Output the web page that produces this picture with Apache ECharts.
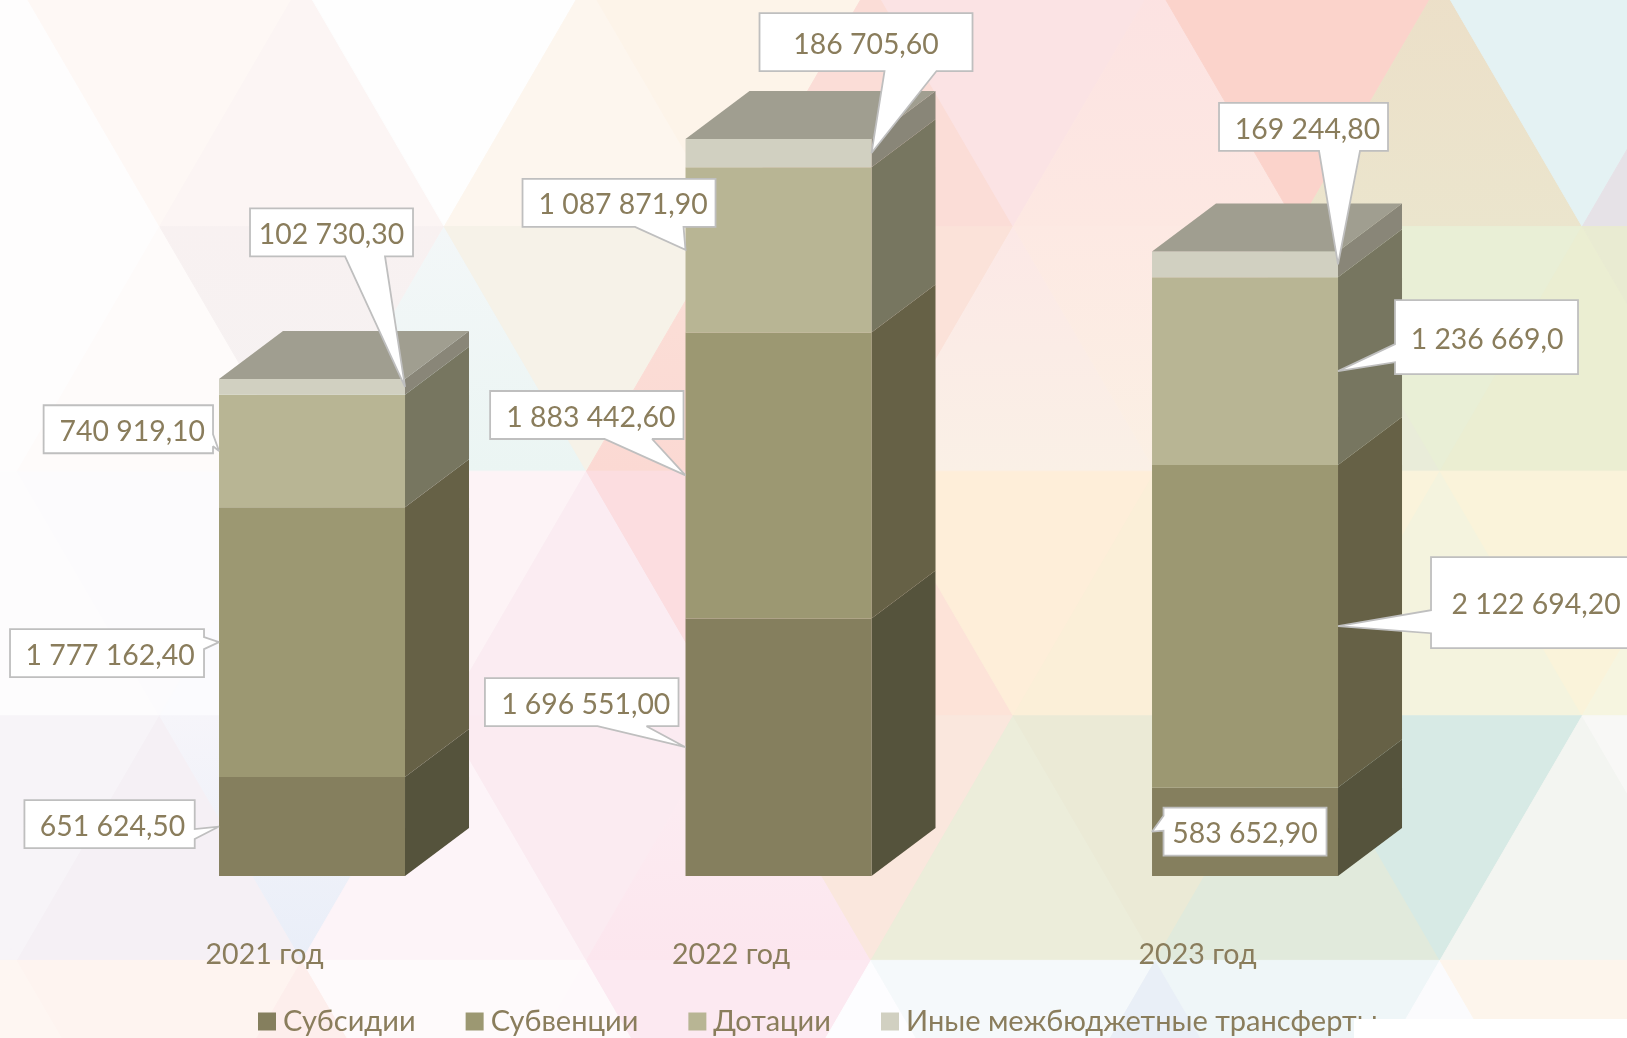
<!DOCTYPE html>
<html lang="ru">
<head>
<meta charset="utf-8">
<style>html,body{margin:0;padding:0;background:#fff;overflow:hidden}#c{width:1627px;height:1038px}</style>
<script src="https://cdn.jsdelivr.net/npm/echarts@6/dist/echarts.min.js"></script>
</head>
<body>
<div id="c"></div>
<script>
// ---------- data ----------
const categories = ['2021 год', '2022 год', '2023 год'];
const seriesNames = ['Субсидии', 'Субвенции', 'Дотации', 'Иные межбюджетные трансферты'];
const subsidies = [651624.5, 1696551.0, 583652.9];
const subventions = [1777162.4, 1883442.6, 2122694.2];
const dotations = [740919.1, 1087871.9, 1236669.0];
const otherTransfers = [102730.3, 186705.6, 169244.8];
const subsidyLabels = ['651 624,50', '1 696 551,00', '583 652,90'];
const subventionLabels = ['1 777 162,40', '1 883 442,60', '2 122 694,20'];
const dotationLabels = ['740 919,10', '1 087 871,90', '1 236 669,0'];
const otherLabels = ['102 730,30', '186 705,60', '169 244,80'];

// ---------- style ----------
const FONT = 'Lato, "Open Sans", "Noto Sans", sans-serif';
const TEXT = '#8a7d5c';
const frontColors = ['#857f5e', '#9c9872', '#b8b594', '#d1d0c1'];
const sideColors = ['#55533c', '#666146', '#777660', '#898678'];
const topColor = '#a09e90';

// bar geometry as a share of the category band
const BAR_LEFT = -0.0977, BAR_W = 0.3987, DEPTH_X = 0.1372, DEPTH_Y = 0.1029;

// callout layout: pointer side, box offsets from the pointer tip, edge that carries the pointer, pointer base, text shift
const calloutLayout = [
  [ {side:'l',box:[-194.6,-26.5,-24.3,21.5],edge:'right',base:[2.5,12.5],t:3},
    {side:'l',box:[-200.6,-69,-7,-21],edge:'bottom',base:[-88,-39],t:4},
    {side:'l',box:[11.5,-24,174.5,24],edge:'left',base:[-16,-1],t:0} ],
  [ {side:'l',box:[-209,-13,-15,35],edge:'right',base:[-5,7],t:3},
    {side:'l',box:[-195.4,-84.4,-2,-36.4],edge:'bottom',base:[-81,-33.4],t:4},
    {side:'r',box:[93,-69,302,22],edge:'left',base:[-16,7],t:0.5} ],
  [ {side:'l',box:[-175.4,-45.7,-6,2.3],edge:'right',base:[-16.7,-4.7],t:4},
    {side:'l',box:[-163,-71,30,-23],edge:'bottom',base:[-50.5,-2],t:4},
    {side:'r',box:[57,-71,240,3],edge:'left',base:[-27,-9],t:0.5} ],
  [ {side:'r',box:[-155,-178.5,8,-130.5],edge:'bottom',base:[-60,-20],t:0},
    {side:'r',box:[-112,-140,101,-82],edge:'bottom',base:[13,65],t:0},
    {side:'r',box:[-119,-161.5,50,-113.5],edge:'bottom',base:[-19,22],t:4} ]
];

// background lattice of pale triangles; a pair of colours is a top-to-bottom fade
const LAT_X0 = 17.5, LAT_H = 142.25, LAT_Y0 = -18, LAT_ROW = 244.6;
const bgRow0 = ['#fefdfd','#fef8f5','#fcf5f4','#fefefe','#fdf6ee','#fdf4e9','#fbddd7','#fbe3e4',['#fce2e2','#fde8e2'],'#fbd3cb',['#ecdfc8','#ebe5cd'],'#e4f2f3','#e6e2e7'];
const bgRow1 = ['#fefdfd','#fefbfa',['#f8f1f1','#f5f2f2'],['#f3f7f8','#ebf5f3'],'#f6f2e8',['#fbe0d8','#fbd9d3'],'#fbe2d9',['#fce8e6','#faf0e6'],['#fde9e3','#fbf0e4'],'#e9ecd9','#e9efd6','#ebeed2','#e9ebd2'];
const bgRow2 = ['#fdfcfd','#fcfbfd','#fbfbfe','#fdf3f6','#fbecf2','#fcdde0','#fde3d8','#feeed9','#fbefd8','#faf3db','#f4f3de','#faf3da','#f6f5e0'];
const bgRow3 = ['#f7f4f8','#f5f0f5',['#f6f5fa','#e9eef8'],'#fdf4f8','#fbebf1',['#fceef3','#fce6ee'],'#fae7dd','#ecedda','#ebead6','#e1eadc','#d7eae5','#f3f5f1','#f8f8f6'];
const bgRow4 = ['#fef6f2','#fef4f0','#fdeeec','#fefafb','#fef9fb','#fce9f1','#fdfdff','#f5f9fb','#e9eff7','#eff6f8','#fbfbfd','#fdf5ec','#fdf8f0'];
const bgRows = [bgRow0, bgRow1, bgRow2, bgRow3, bgRow4];

function latticeTriangle(row, a) {
  const yTop = LAT_Y0 + row * LAT_ROW, yBot = yTop + LAT_ROW;
  const x = i => LAT_X0 + i * LAT_H;
  return (a + row + 2) % 2 === 0
    ? [[x(a), yTop], [x(a + 1), yBot], [x(a - 1), yBot]]
    : [[x(a - 1), yTop], [x(a + 1), yTop], [x(a), yBot]];
}
function bgFill(color) {
  if (!Array.isArray(color)) return color;
  return new echarts.graphic.LinearGradient(0, 0, 0, 1, [{ offset: 0, color: color[0] }, { offset: 1, color: color[1] }]);
}
const bgElements = [];
bgRows.forEach((colors, row) => {
  [colors[0]].concat(colors).forEach((color, i) => {
    const fill = bgFill(color);
    bgElements.push({
      type: 'polygon', silent: true, z: -10,
      shape: { points: latticeTriangle(row, i - 1) },
      style: { fill: fill, stroke: fill, lineWidth: 1 }
    });
  });
});
// the blank patch that covers the end of the legend
bgElements.push({ type: 'rect', silent: true, z: 100, shape: { x: 1354, y: 1019, width: 280, height: 24 }, style: { fill: '#ffffff' } });

// ---------- series ----------
const stacks = [subsidies, subventions, dotations, otherTransfers];
const labelSets = [subsidyLabels, subventionLabels, dotationLabels, otherLabels];

function barRender(si) {
  return function (params, api) {
    const cat = api.value(0);
    const band = api.size([1, 0])[0];
    const p0 = api.coord([cat, api.value(1)]);
    const p1 = api.coord([cat, api.value(2)]);
    const xl = p0[0] + BAR_LEFT * band, xr = xl + BAR_W * band;
    const dx = DEPTH_X * band, dy = DEPTH_Y * band;
    const kids = [
      { type: 'polygon', shape: { points: [[xr, p1[1]], [xr + dx, p1[1] - dy], [xr + dx, p0[1] - dy], [xr, p0[1]]] }, style: { fill: sideColors[si] } },
      { type: 'polygon', shape: { points: [[xl, p1[1]], [xr, p1[1]], [xr, p0[1]], [xl, p0[1]]] }, style: { fill: frontColors[si] } }
    ];
    if (si === stacks.length - 1) {
      kids.push({ type: 'polygon', shape: { points: [[xl, p1[1]], [xl + dx, p1[1] - dy], [xr + dx, p1[1] - dy], [xr, p1[1]]] }, style: { fill: topColor } });
    }
    return { type: 'group', children: kids };
  };
}

const barSeries = stacks.map((values, si) => ({
  type: 'custom',
  name: seriesNames[si],
  coordinateSystem: 'cartesian2d',
  z: 2 + si * 0.01,
  silent: true,
  clip: false,
  itemStyle: { color: frontColors[si] },
  encode: { x: 0, y: [1, 2] },
  renderItem: barRender(si),
  data: values.map((v, c) => {
    let base = 0;
    for (let k = 0; k < si; k++) base += stacks[k][c];
    return [c, base, base + v];
  })
}));

const calloutData = [];
stacks.forEach((values, si) => values.forEach((v, c) => {
  let base = 0;
  for (let k = 0; k < si; k++) base += stacks[k][c];
  calloutData.push([c, base + v / 2, si]);
}));

function calloutRender(params, api) {
  const c = api.value(0), si = api.value(2);
  const L = calloutLayout[si][c];
  const band = api.size([1, 0])[0];
  const p = api.coord([c, api.value(1)]);
  const xl = p[0] + BAR_LEFT * band;
  const tx = L.side === 'l' ? xl : xl + BAR_W * band, ty = p[1];
  const x0 = tx + L.box[0], y0 = ty + L.box[1], x1 = tx + L.box[2], y1 = ty + L.box[3];
  let pts;
  if (L.edge === 'bottom') {
    pts = [[x0, y0], [x1, y0], [x1, y1], [tx + L.base[1], y1], [tx, ty], [tx + L.base[0], y1], [x0, y1]];
  } else if (L.edge === 'left') {
    pts = [[x0, y0], [x1, y0], [x1, y1], [x0, y1], [x0, ty + L.base[1]], [tx, ty], [x0, ty + L.base[0]]];
  } else {
    pts = [[x0, y0], [x1, y0], [x1, ty + L.base[0]], [tx, ty], [x1, ty + L.base[1]], [x1, y1], [x0, y1]];
  }
  return {
    type: 'group',
    children: [
      { type: 'polygon', shape: { points: pts }, style: { fill: '#ffffff', stroke: '#bfbfbf', lineWidth: 1.8, lineJoin: 'miter', miterLimit: 2 } },
      { type: 'text', style: { text: labelSets[si][c], x: (x0 + x1) / 2 + L.t, y: (y0 + y1) / 2 + 2.5, align: 'center', verticalAlign: 'middle', fill: TEXT, font: '28.4px ' + FONT } }
    ]
  };
}

const chart = echarts.init(document.getElementById('c'), null, { renderer: 'canvas' });
chart.setOption({
  animation: false,
  backgroundColor: '#ffffff',
  graphic: { elements: bgElements },
  grid: { left: 31.35, width: 1399.5, top: 116.8, height: 759.2 },
  xAxis: {
    type: 'category',
    data: categories,
    axisLine: { show: false },
    axisTick: { show: false },
    axisLabel: { color: TEXT, fontFamily: FONT, fontSize: 28.6, margin: 64 }
  },
  yAxis: { type: 'value', min: 0, max: 5000000, show: false },
  legend: {
    data: seriesNames,
    left: 258,
    top: 1007,
    padding: 0,
    icon: 'rect',
    itemWidth: 18,
    itemHeight: 18,
    itemGap: 50,
    selectedMode: false,
    textStyle: { color: TEXT, fontFamily: FONT, fontSize: 29, padding: [0, 0, 0, 2] }
  },
  series: barSeries.concat([{
    type: 'custom',
    name: 'callouts',
    coordinateSystem: 'cartesian2d',
    z: 5,
    silent: true,
    clip: false,
    encode: { x: 0, y: 1 },
    renderItem: calloutRender,
    data: calloutData
  }])
});
</script>
</body>
</html>
